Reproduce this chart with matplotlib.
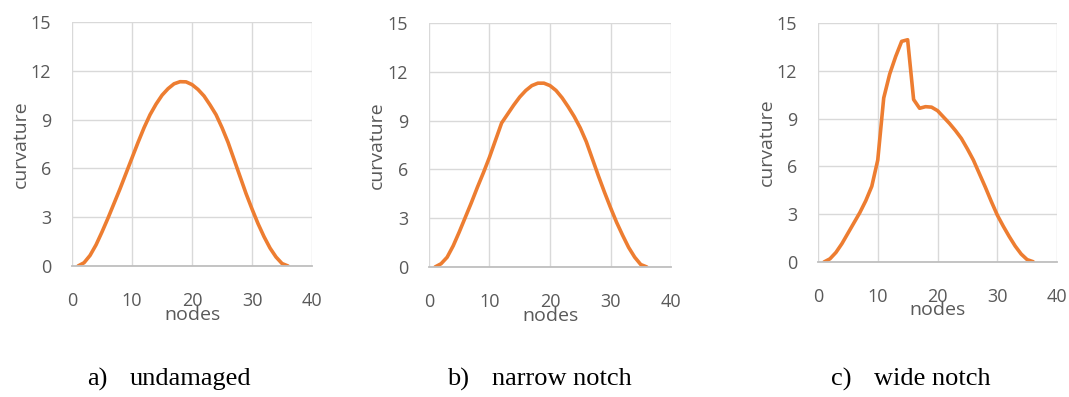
import matplotlib
matplotlib.use("Agg")
import matplotlib.pyplot as plt

# node numbers along the beam
nodes = list(range(1, 37))

# curvature values
undamaged = [0.0, 0.2, 0.65, 1.3, 2.1, 2.95, 3.85, 4.75, 5.7, 6.65,
             7.6, 8.5, 9.3, 9.95, 10.5, 10.9, 11.2, 11.33, 11.32, 11.15,
             10.85, 10.45, 9.9, 9.3, 8.5, 7.6, 6.55, 5.5, 4.45, 3.5,
             2.6, 1.8, 1.1, 0.55, 0.15, 0.0]
narrow_notch = [0.0, 0.2, 0.6, 1.3, 2.15, 3.05, 3.95, 4.9, 5.8, 6.75,
                7.8, 8.85, 9.4, 9.95, 10.45, 10.85, 11.15, 11.3, 11.3, 11.15,
                10.85, 10.4, 9.85, 9.25, 8.55, 7.7, 6.65, 5.6, 4.6, 3.65,
                2.75, 1.95, 1.2, 0.6, 0.15, 0.0]
wide_notch = [0.0, 0.2, 0.6, 1.15, 1.8, 2.45, 3.1, 3.85, 4.75, 6.4,
              10.3, 11.8, 12.9, 13.85, 13.95, 10.2, 9.65, 9.75, 9.72, 9.5,
              9.1, 8.7, 8.25, 7.75, 7.1, 6.4, 5.55, 4.7, 3.8, 2.95,
              2.25, 1.6, 1.0, 0.5, 0.15, 0.02]

x_ticks = [0, 10, 20, 30, 40]
y_ticks = [0, 3, 6, 9, 12, 15]
captions = [("a)", "undamaged"), ("b)", "narrow notch"), ("c)", "wide notch")]

line_color = "#ED7D31"
text_color = "#595959"

fig = plt.figure(figsize=(10.69, 3.97), dpi=100)

# axes boxes in figure fractions (left, bottom, width, height)
boxes = [(0.0674, 0.330, 0.2245, 0.6146),
         (0.4013, 0.3275, 0.2264, 0.6146),
         (0.7652, 0.340, 0.2236, 0.602)]
# caption positions: (label x, word x)
cap_x = [(0.0814, 0.1216), (0.4180, 0.4600), (0.7770, 0.8180)]

for box, series, cap, cx in zip(boxes, [undamaged, narrow_notch, wide_notch], captions, cap_x):
    ax = fig.add_axes(box)
    ax.plot(nodes, series, color=line_color, lw=2.6, solid_joinstyle="round",
            solid_capstyle="round")
    ax.set_xlim(0, 40)
    ax.set_ylim(0, 15)
    ax.set_xticks(x_ticks)
    ax.set_yticks(y_ticks)
    ax.grid(True, color="#d9d9d9", lw=1.0)
    ax.set_axisbelow(True)
    for side in ["top", "right", "left"]:
        ax.spines[side].set_visible(False)
    ax.spines["bottom"].set_color("#bfbfbf")
    ax.spines["bottom"].set_linewidth(1.3)
    ax.tick_params(length=0, labelsize=13, labelcolor=text_color)
    ax.tick_params(axis="x", pad=19)
    ax.tick_params(axis="y", pad=15)
    for lab in ax.get_xticklabels() + ax.get_yticklabels():
        lab.set_family("Open Sans")
    ax.set_xlabel("nodes", fontsize=14, color=text_color, family="Open Sans")
    ax.set_ylabel("curvature", fontsize=14, color=text_color, family="Open Sans")
    ax.xaxis.set_label_coords(0.5, -0.165)
    ax.xaxis.label.set_va("top")
    ax.yaxis.set_label_coords(-0.214, 0.5)
    ax.yaxis.label.set_va("center")

    fig.text(cx[0], 0.03, cap[0], fontsize=19, family="Liberation Serif", va="baseline")
    fig.text(cx[1], 0.03, cap[1], fontsize=19, family="Liberation Serif", va="baseline")

fig.savefig("out.png", dpi=100)
